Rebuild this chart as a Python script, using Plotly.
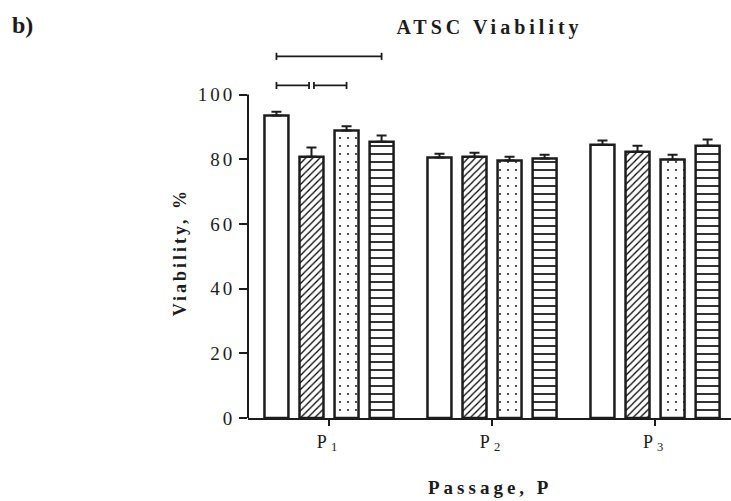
import plotly.graph_objects as go

# ---- data ----
categories = ["P1", "P2", "P3"]
tick_labels = ["P<sub>1</sub>", "P<sub>2</sub>", "P<sub>3</sub>"]
series_names = ["Group 1", "Group 2", "Group 3", "Group 4"]
values_1 = [93.5, 80.5, 84.5]
errors_1 = [1.2, 1.2, 1.3]
values_2 = [80.8, 80.8, 82.3]
errors_2 = [2.8, 1.2, 1.9]
values_3 = [88.9, 79.6, 79.9]
errors_3 = [1.3, 1.2, 1.5]
values_4 = [85.4, 80.2, 84.2]
errors_4 = [1.9, 1.2, 1.9]
y_ticks = [0, 20, 40, 60, 80, 100]

# significance comparisons within P1: (bar a, bar b), drawn at given level
comparisons = [(0, 3), (0, 1), (1, 2)]
comparison_levels = [111.8, 102.8, 102.8]

INK = "#1c1c1c"
FONT = "Liberation Serif, Times New Roman, serif"
BARGAP = 0.14
BARGROUPGAP = 0.316

patterns = [
    dict(shape=""),
    dict(shape="/", fgcolor="#000000", bgcolor="white", size=5, solidity=0.25,
         fgopacity=1, fillmode="replace"),
    dict(shape=".", fgcolor="#000000", bgcolor="white", size=8, solidity=0.04,
         fgopacity=1, fillmode="replace"),
    dict(shape="-", fgcolor="#000000", bgcolor="white", size=8, solidity=0.2,
         fgopacity=1, fillmode="replace"),
]
vals = [values_1, values_2, values_3, values_4]
errs = [errors_1, errors_2, errors_3, errors_4]
xs = list(range(len(categories)))

fig = go.Figure()
for k in range(4):
    fig.add_trace(go.Bar(
        x=xs, y=vals[k], name=series_names[k],
        marker=dict(color="white", line=dict(color=INK, width=2.5), pattern=patterns[k]),
        error_y=dict(type="data", symmetric=False, array=errs[k],
                     arrayminus=[0] * len(categories),
                     color=INK, thickness=2, width=5),
        showlegend=False, hoverinfo="skip",
    ))

def spaced(t, px):
    return '<span style="letter-spacing:%dpx">%s</span>' % (px, t)

n = 4
slot = (1 - BARGAP) / n
def center(g, k):
    return g - (1 - BARGAP) / 2 + (k + 0.5) * slot

shapes = []
# y axis line only from 0 to 100
shapes.append(dict(type="line", xref="paper", yref="y", x0=0, x1=0,
                   y0=y_ticks[0], y1=y_ticks[-1], line=dict(color=INK, width=2)))
cap = 1.1
gapx = 0.015
for (a, b), lvl in zip(comparisons, comparison_levels):
    x0 = center(0, a)
    x1 = center(0, b)
    if any(c[0] == b for c in comparisons if c != (a, b)) and b - a == 1:
        x1 -= gapx
    if any(c[1] == a for c in comparisons if c != (a, b)) and b - a == 1:
        x0 += gapx
    shapes.append(dict(type="line", xref="x", yref="y", x0=x0, x1=x1, y0=lvl, y1=lvl,
                       line=dict(color=INK, width=1.8)))
    for xx in (x0, x1):
        shapes.append(dict(type="line", xref="x", yref="y", x0=xx, x1=xx,
                           y0=lvl - cap, y1=lvl + cap, line=dict(color=INK, width=1.8)))

fig.update_layout(
    width=731, height=501,
    margin=dict(l=248, r=0, t=46, b=83),
    paper_bgcolor="white", plot_bgcolor="white",
    barmode="group", bargap=BARGAP, bargroupgap=BARGROUPGAP,
    font=dict(family=FONT, color=INK),
    title=dict(text=spaced("<b>ATSC Viability</b>", 4), x=0.5, xref="paper",
               y=1 - 27 / 501, yref="container", yanchor="middle",
               font=dict(size=20, family=FONT, color=INK)),
    xaxis=dict(range=[-0.497, 2.466], tickvals=xs,
               ticktext=[spaced(t, 4) for t in tick_labels],
               showline=True, linecolor=INK, linewidth=2,
               ticks="outside", ticklen=6, tickwidth=2, tickcolor=INK,
               showgrid=False, zeroline=False,
               tickfont=dict(size=18, family=FONT, color=INK)),
    yaxis=dict(range=[0, 115], tickvals=y_ticks,
               ticktext=[spaced(str(t), 3) for t in y_ticks],
               showline=False, ticks="outside", ticklen=8, tickwidth=2, tickcolor=INK,
               showgrid=False, zeroline=False,
               tickfont=dict(size=19, family=FONT, color=INK)),
    shapes=shapes,
    annotations=[
        dict(text=spaced("<b>Viability, %</b>", 3), xref="paper", yref="y",
             x=(180 - 248) / 483, y=50, yshift=4, textangle=-90, showarrow=False,
             xanchor="center", yanchor="middle",
             font=dict(size=18, family=FONT, color=INK)),
        dict(text=spaced("<b>Passage, P</b>", 4), xref="paper", yref="paper",
             x=0.5, y=0, yshift=-69, showarrow=False,
             xanchor="center", yanchor="middle",
             font=dict(size=19, family=FONT, color=INK)),
        dict(text="<b>b)</b>", xref="paper", yref="paper",
             x=(10 - 248) / 483, y=1 + (46 - 25) / 372, showarrow=False,
             xanchor="left", yanchor="middle",
             font=dict(size=24, family=FONT, color=INK)),
    ],
)

fig.write_html("out.html", config={"displayModeBar": False, "staticPlot": True},
               post_script="document.body.style.margin='0';document.body.style.overflow='hidden';")
